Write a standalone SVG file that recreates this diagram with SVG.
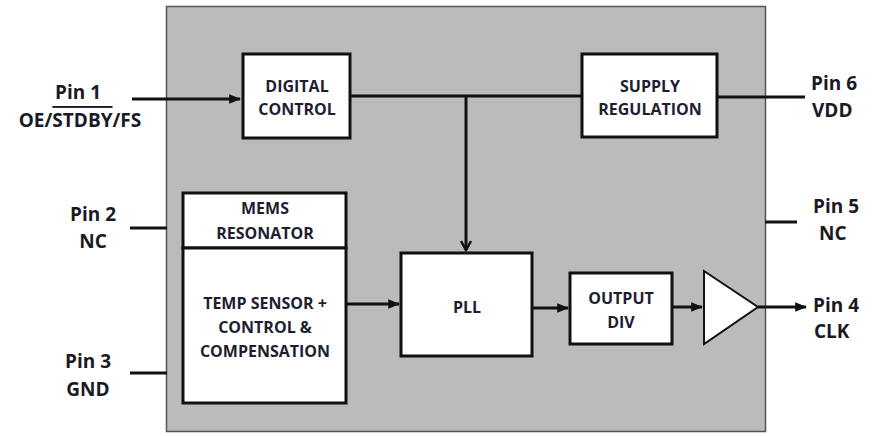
<svg xmlns="http://www.w3.org/2000/svg" width="874" height="436" viewBox="0 0 874 436">
<style>
.pin{font-family:"Open Sans","Liberation Sans",sans-serif;font-weight:bold;font-size:19px;fill:#1a1a24}
.lbl{font-family:"Open Sans","Liberation Sans",sans-serif;font-weight:bold;font-size:16px;fill:#1e1e30;text-anchor:middle}
.box{fill:#ffffff;stroke:#111111;stroke-width:3}
.wire{fill:none;stroke:#111111;stroke-width:3}
</style>
<defs>
<marker id="ah" viewBox="0 0 10 10" refX="9" refY="5" markerWidth="4" markerHeight="4" markerUnits="strokeWidth" orient="auto">
<path d="M0,1 L10,5 L0,9 z" fill="#111111"/>
</marker>
<marker id="av" viewBox="0 0 12 12" refX="10" refY="6" markerWidth="4" markerHeight="4" markerUnits="strokeWidth" orient="auto">
<path d="M1,1 L10,6 L1,11" fill="none" stroke="#111111" stroke-width="2.5"/>
</marker>
</defs>
<rect width="874" height="436" fill="#ffffff"/>
<g id="chip">
<rect x="166.5" y="6.5" width="599" height="425" fill="#bbbbbb" stroke="#555555" stroke-width="1.5"/>
</g>
<g id="connectors">
<line class="wire" x1="132" y1="99" x2="240" y2="99" marker-end="url(#ah)"/>
<line class="wire" x1="350" y1="96" x2="582" y2="96"/>
<line class="wire" x1="466" y1="96" x2="466" y2="250" marker-end="url(#av)"/>
<line class="wire" x1="717" y1="97" x2="805" y2="97"/>
<line class="wire" x1="130" y1="228" x2="167" y2="228"/>
<line class="wire" x1="130" y1="373" x2="167" y2="373"/>
<line class="wire" x1="765" y1="222" x2="797" y2="222"/>
<line class="wire" x1="346" y1="304" x2="399" y2="304" marker-end="url(#ah)"/>
<line class="wire" x1="532" y1="308" x2="568" y2="308" marker-end="url(#ah)"/>
<line class="wire" x1="672" y1="307" x2="702" y2="307" marker-end="url(#ah)"/>
<line class="wire" x1="758" y1="307" x2="806" y2="307" marker-end="url(#ah)"/>
</g>
<g id="digital-control">
<rect class="box" x="243" y="54" width="107" height="84"/>
<text class="lbl" x="297" y="92">DIGITAL</text>
<text class="lbl" x="297" y="115">CONTROL</text>
</g>
<g id="supply-regulation">
<rect class="box" x="582" y="54" width="135" height="83"/>
<text class="lbl" x="650" y="92">SUPPLY</text>
<text class="lbl" x="650" y="115">REGULATION</text>
</g>
<g id="mems-resonator">
<rect class="box" x="183" y="193" width="163" height="55"/>
<text class="lbl" x="265" y="214">MEMS</text>
<text class="lbl" x="265" y="239">RESONATOR</text>
</g>
<g id="temp-sensor">
<rect class="box" x="183" y="248" width="163" height="155"/>
<text class="lbl" x="265" y="309">TEMP SENSOR +</text>
<text class="lbl" x="265" y="333">CONTROL &amp;</text>
<text class="lbl" x="265" y="357">COMPENSATION</text>
</g>
<g id="pll">
<rect class="box" x="401" y="253" width="131" height="103"/>
<text class="lbl" x="467" y="313">PLL</text>
</g>
<g id="output-div">
<rect class="box" x="570" y="273" width="102" height="71"/>
<text class="lbl" x="621" y="304">OUTPUT</text>
<text class="lbl" x="621" y="328">DIV</text>
</g>
<g id="buffer">
<polygon points="704,271 758,307 704,344" fill="#ffffff" stroke="#111111" stroke-width="2"/>
</g>
<g id="pin1">
<text class="pin" x="78" y="99" text-anchor="middle">Pin 1</text>
<text class="pin" x="80" y="127" text-anchor="middle">OE/<tspan text-decoration="overline">STDBY</tspan>/FS</text>
</g>
<g id="pin2">
<text class="pin" x="93" y="221" text-anchor="middle">Pin 2</text>
<text class="pin" x="93" y="248" text-anchor="middle">NC</text>
</g>
<g id="pin3">
<text class="pin" x="88" y="368" text-anchor="middle">Pin 3</text>
<text class="pin" x="88" y="396" text-anchor="middle">GND</text>
</g>
<g id="pin4">
<text class="pin" x="813" y="312">Pin 4</text>
<text class="pin" x="814" y="338">CLK</text>
</g>
<g id="pin5">
<text class="pin" x="813" y="213">Pin 5</text>
<text class="pin" x="819" y="240">NC</text>
</g>
<g id="pin6">
<text class="pin" x="811" y="90">Pin 6</text>
<text class="pin" x="812" y="117">VDD</text>
</g>
</svg>
